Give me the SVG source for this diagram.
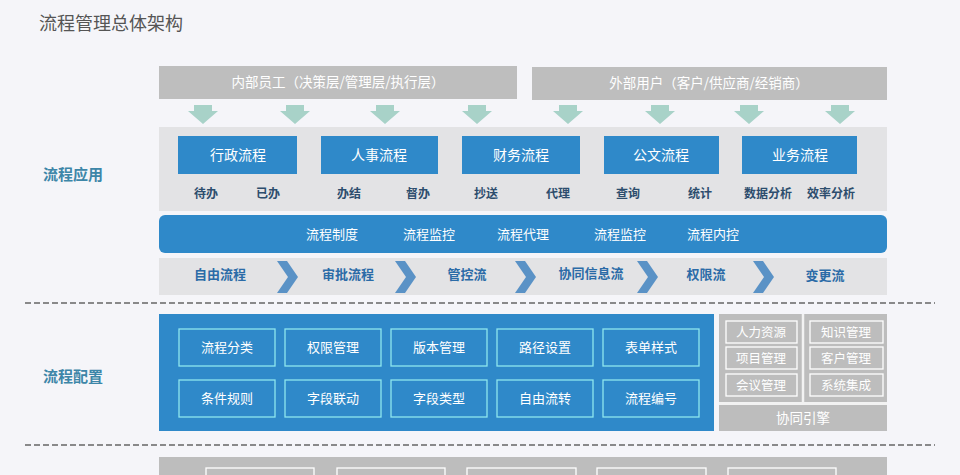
<svg xmlns="http://www.w3.org/2000/svg" width="960" height="475" viewBox="0 0 960 475">
<defs>
<style>
text{font-family:"Noto Sans CJK SC","Noto Sans",sans-serif;}
.title{font-size:18px;fill:#555;}
.sec{font-size:15px;font-weight:bold;fill:#3d86a8;text-anchor:middle;}
.bar{fill:#bebebe;}
.barT{font-size:13.5px;fill:#fff;text-anchor:middle;}
.arr{fill:#a8d2c8;}
.panel{fill:#e3e3e5;}
.blue{fill:#2f89c9;}
.blueT{font-size:14px;fill:#fff;text-anchor:middle;}
.sub{font-size:12px;font-weight:bold;fill:#2d4d6d;text-anchor:middle;}
.bandT{font-size:13px;fill:#fff;text-anchor:middle;}
.flowT{font-size:13px;font-weight:bold;fill:#2b6ba7;text-anchor:middle;}
.chev{fill:#5a92c6;}
.dash{stroke:#666;stroke-width:1.5;stroke-dasharray:6 3;fill:none;}
.cfg{fill:none;stroke:#8ee6ee;stroke-width:1.3;}
.cfgT{font-size:13px;fill:#fff;text-anchor:middle;}
.gp{fill:#bdbdbd;}
.gb{fill:none;stroke:#fff;stroke-width:1.3;}
.gT{font-size:12.5px;fill:#fff;text-anchor:middle;}
</style>
</defs>
<rect width="960" height="475" fill="#f5f5f9"/>
<text class="title" x="39" y="30">流程管理总体架构</text>

<g id="users-internal">
<rect class="bar" x="159" y="66" width="358" height="33"/>
<text class="barT" x="338" y="87">内部员工（决策层/管理层/执行层）</text>
</g>
<g id="users-external">
<rect class="bar" x="532" y="67" width="355" height="33"/>
<text class="barT" x="709" y="88">外部用户（客户/供应商/经销商）</text>
</g>

<g id="connectors">
<path id="a" class="arr" d="M194 105h18v6h6l-15 13l-15-13h6z"/>
<use href="#a" x="92"/>
<use href="#a" x="182"/>
<use href="#a" x="274"/>
<use href="#a" x="365"/>
<use href="#a" x="457"/>
<use href="#a" x="546"/>
<use href="#a" x="637"/>
</g>

<text class="sec" x="73" y="180">流程应用</text>
<g id="app-panel">
<rect class="panel" x="159" y="127" width="728" height="84"/>
</g>
<g id="n-xingzheng"><rect class="blue" x="178" y="136" width="119" height="38"/><text class="blueT" x="238" y="160">行政流程</text></g>
<g id="n-renshi"><rect class="blue" x="321" y="136" width="117" height="38"/><text class="blueT" x="379" y="160">人事流程</text></g>
<g id="n-caiwu"><rect class="blue" x="462" y="136" width="118" height="38"/><text class="blueT" x="521" y="160">财务流程</text></g>
<g id="n-gongwen"><rect class="blue" x="604" y="136" width="115" height="38"/><text class="blueT" x="661" y="160">公文流程</text></g>
<g id="n-yewu"><rect class="blue" x="742" y="136" width="115" height="38"/><text class="blueT" x="800" y="160">业务流程</text></g>
<g id="subs">
<text class="sub" x="206" y="198">待办</text>
<text class="sub" x="268" y="198">已办</text>
<text class="sub" x="349" y="198">办结</text>
<text class="sub" x="418" y="198">督办</text>
<text class="sub" x="486" y="198">抄送</text>
<text class="sub" x="558" y="198">代理</text>
<text class="sub" x="628" y="198">查询</text>
<text class="sub" x="700" y="198">统计</text>
<text class="sub" x="768" y="198">数据分析</text>
<text class="sub" x="831" y="198">效率分析</text>
</g>
<g id="band">
<rect class="blue" x="159" y="215" width="728" height="38" rx="6"/>
<text class="bandT" x="332" y="239">流程制度</text>
<text class="bandT" x="429" y="239">流程监控</text>
<text class="bandT" x="523" y="239">流程代理</text>
<text class="bandT" x="620" y="239">流程监控</text>
<text class="bandT" x="713" y="239">流程内控</text>
</g>
<g id="flows">
<rect class="panel" x="159" y="258" width="728" height="37"/>
<path id="c" class="chev" d="M277 261h10l11 16l-11 16h-10l11-16z"/>
<use href="#c" x="118"/>
<use href="#c" x="238"/>
<use href="#c" x="360"/>
<use href="#c" x="476"/>
<text class="flowT" x="220" y="279">自由流程</text>
<text class="flowT" x="348" y="279">审批流程</text>
<text class="flowT" x="467" y="279">管控流</text>
<text class="flowT" x="591" y="278">协同信息流</text>
<text class="flowT" x="706" y="279">权限流</text>
<text class="flowT" x="825" y="280">变更流</text>
</g>

<line class="dash" x1="25" y1="303" x2="935" y2="303"/>

<text class="sec" x="73" y="382">流程配置</text>
<g id="config">
<rect class="blue" x="159" y="314" width="555" height="117"/>
<rect class="cfg" x="179" y="329" width="96" height="37"/><text class="cfgT" x="227" y="352">流程分类</text>
<rect class="cfg" x="285" y="329" width="96" height="37"/><text class="cfgT" x="333" y="352">权限管理</text>
<rect class="cfg" x="391" y="329" width="96" height="37"/><text class="cfgT" x="439" y="352">版本管理</text>
<rect class="cfg" x="497" y="329" width="96" height="37"/><text class="cfgT" x="545" y="352">路径设置</text>
<rect class="cfg" x="603" y="329" width="96" height="37"/><text class="cfgT" x="651" y="352">表单样式</text>
<rect class="cfg" x="179" y="380" width="96" height="37"/><text class="cfgT" x="227" y="403">条件规则</text>
<rect class="cfg" x="285" y="380" width="96" height="37"/><text class="cfgT" x="333" y="403">字段联动</text>
<rect class="cfg" x="391" y="380" width="96" height="37"/><text class="cfgT" x="439" y="403">字段类型</text>
<rect class="cfg" x="497" y="380" width="96" height="37"/><text class="cfgT" x="545" y="403">自由流转</text>
<rect class="cfg" x="603" y="380" width="96" height="37"/><text class="cfgT" x="651" y="403">流程编号</text>
</g>
<g id="collab">
<rect class="gp" x="719" y="314" width="168" height="117"/>
<line x1="803" y1="314" x2="803" y2="402" stroke="#f2f2f2" stroke-width="2.5"/>
<line x1="719" y1="403.5" x2="887" y2="403.5" stroke="#f2f2f2" stroke-width="3"/>
<rect class="gb" x="726" y="321" width="71" height="22"/><text class="gT" x="761" y="337">人力资源</text>
<rect class="gb" x="810" y="321" width="73" height="22"/><text class="gT" x="846" y="337">知识管理</text>
<rect class="gb" x="726" y="347" width="71" height="22"/><text class="gT" x="761" y="363">项目管理</text>
<rect class="gb" x="810" y="347" width="73" height="22"/><text class="gT" x="846" y="363">客户管理</text>
<rect class="gb" x="726" y="374" width="71" height="22"/><text class="gT" x="761" y="390">会议管理</text>
<rect class="gb" x="810" y="374" width="73" height="22"/><text class="gT" x="846" y="390">系统集成</text>
<text class="gT" x="803" y="423" style="font-size:13.5px">协同引擎</text>
</g>

<line class="dash" x1="25" y1="445" x2="935" y2="445"/>

<g id="bottom">
<rect class="gp" x="159" y="457" width="728" height="20"/>
<rect class="gb" x="206" y="468" width="108" height="12"/>
<rect class="gb" x="337" y="468" width="108" height="12"/>
<rect class="gb" x="467" y="468" width="109" height="12"/>
<rect class="gb" x="597" y="468" width="109" height="12"/>
<rect class="gb" x="728" y="468" width="108" height="12"/>
</g>
</svg>
